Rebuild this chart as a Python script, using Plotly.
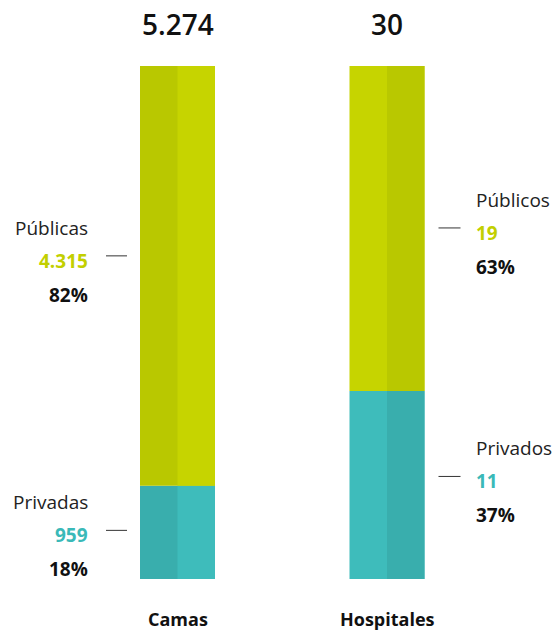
import plotly.graph_objects as go

# data
categories = ["Camas", "Hospitales"]
totals = [5274, 30]
public_values = [4315, 19]
private_values = [959, 11]
public_labels = ["Públicas", "Públicos"]
private_labels = ["Privadas", "Privados"]

public_pct = [p / t * 100 for p, t in zip(public_values, totals)]
private_pct = [p / t * 100 for p, t in zip(private_values, totals)]


def fmt(n):
    return f"{n:,}".replace(",", ".")


LIME_L, LIME_D = "#c6d400", "#b9c800"
TEAL_L, TEAL_D = "#3ebcbb", "#39aead"
LIME_TXT, TEAL_TXT = "#c2cf00", "#3ab9b8"
FONT = "Open Sans"

xs = [0, 1]
w = 0.358
half = w / 2

fig = go.Figure()

# full bar in left-half shade, then right half painted over it (no seam)
for width, offset, pub_cols, priv_cols in [
    (w, -half, [LIME_D, LIME_L], [TEAL_D, TEAL_L]),
    (half, 0, [LIME_L, LIME_D], [TEAL_L, TEAL_D]),
]:
    fig.add_trace(go.Bar(x=xs, y=private_pct, base=[0, 0], width=width, offset=offset,
                         marker=dict(color=priv_cols, line=dict(width=0)), hoverinfo="skip"))
    fig.add_trace(go.Bar(x=xs, y=public_pct, base=private_pct, width=width, offset=offset,
                         marker=dict(color=pub_cols, line=dict(width=0)), hoverinfo="skip"))

annotations = []
shapes = []

# block offsets (pixels) of the number relative to segment middle
pub_shift = [15, -4.5]
priv_shift = [-3, 3.5]

for i, x in enumerate(xs):
    left_side = i == 0
    edge = x - half if left_side else x + half
    xanchor = "right" if left_side else "left"
    txt_dx = -50 if left_side else 49
    line_x = (-34, -13) if left_side else (14, 36)

    segs = [
        (private_pct[i] / 2, priv_shift[i], private_labels[i], private_values[i], private_pct[i], TEAL_TXT),
        (private_pct[i] + public_pct[i] / 2, pub_shift[i], public_labels[i], public_values[i], public_pct[i], LIME_TXT),
    ]
    for mid, sh, lab, val, pct, col in segs:
        annotations.append(dict(x=edge, y=mid, xref="x", yref="y", text=lab, showarrow=False,
                                xanchor=xanchor, yanchor="middle", xshift=txt_dx, yshift=sh + 33,
                                font=dict(family=FONT, size=19, color="#222222")))
        annotations.append(dict(x=edge, y=mid, xref="x", yref="y", text=f"<b>{fmt(val)}</b>",
                                showarrow=False, xanchor=xanchor, yanchor="middle", xshift=txt_dx,
                                yshift=sh, font=dict(family=FONT, size=19, color=col)))
        annotations.append(dict(x=edge, y=mid, xref="x", yref="y", text=f"<b>{round(pct)}%</b>",
                                showarrow=False, xanchor=xanchor, yanchor="middle", xshift=txt_dx,
                                yshift=sh - 34, font=dict(family=FONT, size=19, color="#111111")))
        shapes.append(dict(type="line", xref="x", yref="y", xsizemode="pixel", ysizemode="pixel",
                           xanchor=edge, yanchor=mid, x0=line_x[0], x1=line_x[1],
                           y0=sh + 5, y1=sh + 5, line=dict(color="#333333", width=1)))

    # total above bar
    annotations.append(dict(x=x, y=100, xref="x", yref="y", text=fmt(totals[i]), showarrow=False,
                            xanchor="center", yanchor="middle", yshift=42,
                            font=dict(family=FONT, size=28, color="#111111", weight=600)))
    # category below bar
    annotations.append(dict(x=x, y=0, xref="x", yref="y", text=f"<b>{categories[i]}</b>",
                            showarrow=False, xanchor="center", yanchor="middle", yshift=-40,
                            font=dict(family=FONT, size=18, color="#111111")))

fig.update_layout(
    width=557, height=631,
    margin=dict(l=0, r=0, t=66, b=52),
    barmode="overlay",
    showlegend=False,
    paper_bgcolor="white",
    plot_bgcolor="white",
    xaxis=dict(range=[-177.5 / 209.5, 379.5 / 209.5], visible=False, fixedrange=True),
    yaxis=dict(range=[0, 100], visible=False, fixedrange=True),
    annotations=annotations,
    shapes=shapes,
)

fig.write_html("out.html", config={"displayModeBar": False},
               post_script="document.body.style.margin='0';")
